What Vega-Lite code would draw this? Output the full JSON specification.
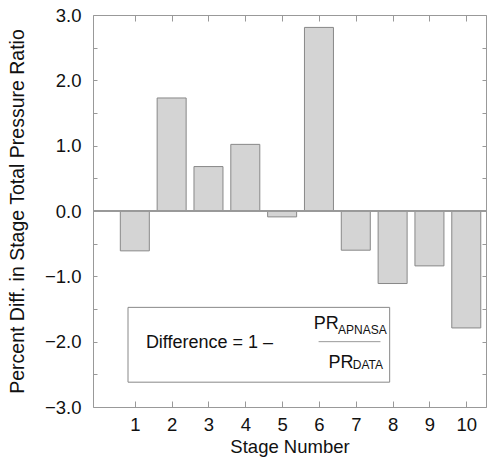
{
  "$schema": "https://vega.github.io/schema/vega-lite/v6.json",
  "width": 393,
  "height": 392,
  "autosize": "none",
  "padding": {"left": 93, "top": 15, "right": 1, "bottom": 53},
  "config": {
    "font": "Liberation Sans",
    "view": {"stroke": "#999", "strokeWidth": 1},
    "axis": {
      "domain": false,
      "grid": false,
      "tickColor": "#999",
      "labelColor": "#111",
      "titleColor": "#111",
      "labelFont": "Liberation Sans",
      "titleFont": "Liberation Sans",
      "labelFontSize": 18.5,
      "titleFontSize": 18.5,
      "titleFontWeight": "normal",
      "labelFlush": false,
      "labelOverlap": false,
      "labelBound": false
    }
  },
  "datasets": {
    "stages": [
      {"stage": 1, "diff": -0.61},
      {"stage": 2, "diff": 1.73},
      {"stage": 3, "diff": 0.68},
      {"stage": 4, "diff": 1.02},
      {"stage": 5, "diff": -0.09},
      {"stage": 6, "diff": 2.81},
      {"stage": 7, "diff": -0.60},
      {"stage": 8, "diff": -1.11},
      {"stage": 9, "diff": -0.84},
      {"stage": 10, "diff": -1.79}
    ],
    "box": [{"x1": 0.815, "x2": 7.92, "y1": -1.475, "y2": -2.62}],
    "fracline": [{"x1": 5.99, "x2": 7.67, "y": -2.0}],
    "mainText": [
      {"label": "Difference = 1 –", "x": 1.30, "y": -2.093},
      {"label": "PR", "x": 5.86, "y": -1.81},
      {"label": "PR", "x": 6.26, "y": -2.408}
    ],
    "subText": [
      {"label": "APNASA", "x": 6.52, "y": -1.887},
      {"label": "DATA", "x": 6.92, "y": -2.423}
    ]
  },
  "layer": [
    {
      "data": {"name": "stages"},
      "mark": {"type": "bar", "size": 29, "fill": "#d4d4d4", "stroke": "#888", "strokeWidth": 1},
      "encoding": {
        "x": {
          "field": "stage", "type": "quantitative",
          "scale": {"domain": [0, 10.4], "nice": false, "zero": false},
          "axis": {
            "orient": "bottom", "values": [1,2,3,4,5,6,7,8,9,10],
            "tickSize": -6, "labelPadding": 14, "format": "d",
            "title": "Stage Number", "titlePadding": 4
          }
        },
        "y": {
          "field": "diff", "type": "quantitative", "stack": null,
          "scale": {"domain": [-3, 3], "nice": false},
          "axis": {
            "orient": "left",
            "values": [-3,-2.5,-2,-1.5,-1,-0.5,0,0.5,1,1.5,2,2.5,3],
            "labelExpr": "datum.value % 1 === 0 ? format(datum.value, '.1f') : ''",
            "tickSize": -4, "labelPadding": 16,
            "title": "Percent Diff. in Stage Total Pressure Ratio", "titlePadding": 17,
            "titleFontSize": 19.5
          }
        }
      }
    },
    {
      "data": {"name": "stages"},
      "mark": {"type": "point", "opacity": 0},
      "encoding": {
        "x": {
          "field": "stage", "type": "quantitative",
          "axis": {"orient": "top", "values": [1,2,3,4,5,6,7,8,9,10], "tickSize": -6, "labels": false, "title": null}
        },
        "y": {
          "field": "diff", "type": "quantitative",
          "axis": {"orient": "right", "values": [-3,-2.5,-2,-1.5,-1,-0.5,0,0.5,1,1.5,2,2.5,3], "tickSize": -4, "labels": false, "title": null}
        }
      }
    },
    {
      "data": {"name": "stages"},
      "mark": {"type": "rule", "color": "#999", "strokeWidth": 1},
      "encoding": {
        "y": {"datum": 0, "type": "quantitative", "axis": null}
      }
    },
    {
      "data": {"name": "box"},
      "mark": {"type": "rect", "fill": "white", "stroke": "#888", "strokeWidth": 1},
      "encoding": {
        "x": {"field": "x1", "type": "quantitative", "axis": null},
        "x2": {"field": "x2"},
        "y": {"field": "y1", "type": "quantitative", "axis": null},
        "y2": {"field": "y2"}
      }
    },
    {
      "data": {"name": "fracline"},
      "mark": {"type": "rule", "color": "#999", "strokeWidth": 1},
      "encoding": {
        "x": {"field": "x1", "type": "quantitative", "axis": null},
        "x2": {"field": "x2"},
        "y": {"field": "y", "type": "quantitative", "axis": null}
      }
    },
    {
      "data": {"name": "mainText"},
      "mark": {"type": "text", "align": "left", "baseline": "alphabetic", "fontSize": 18, "color": "#111", "font": "Liberation Sans"},
      "encoding": {
        "x": {"field": "x", "type": "quantitative", "axis": null},
        "y": {"field": "y", "type": "quantitative", "axis": null},
        "text": {"field": "label"}
      }
    },
    {
      "data": {"name": "subText"},
      "mark": {"type": "text", "align": "left", "baseline": "alphabetic", "fontSize": 12, "color": "#111", "font": "Liberation Sans"},
      "encoding": {
        "x": {"field": "x", "type": "quantitative", "axis": null},
        "y": {"field": "y", "type": "quantitative", "axis": null},
        "text": {"field": "label"}
      }
    }
  ],
  "resolve": {"axis": {"x": "independent", "y": "independent"}}
}
